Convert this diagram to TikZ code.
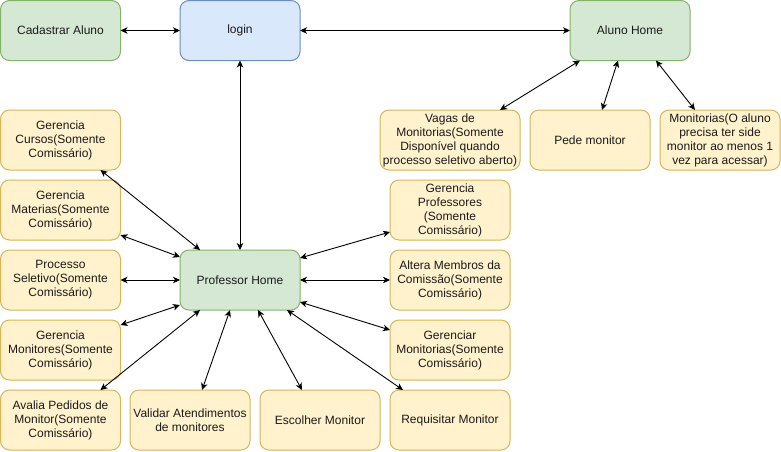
\documentclass[tikz,border=0pt]{standalone}
\usepackage{fontspec}
\setmainfont{Liberation Sans}
\usetikzlibrary{arrows.meta}
\definecolor{yfill}{HTML}{FFF2CC}
\definecolor{ydraw}{HTML}{D6B656}
\definecolor{gfill}{HTML}{D5E8D4}
\definecolor{gdraw}{HTML}{82B366}
\definecolor{bfill}{HTML}{DAE8FC}
\definecolor{bdraw}{HTML}{6C8EBF}
\definecolor{txt}{HTML}{1A1A1A}
\tikzset{
  box/.style={rectangle, rounded corners=9pt, minimum width=120pt, minimum height=60pt,
    inner sep=0pt, outer sep=0pt, line width=1pt, align=center, text=txt,
    font=\fontsize{12}{14}\selectfont},
  ybox/.style={box, fill=yfill, draw=ydraw},
  gbox/.style={box, fill=gfill, draw=gdraw},
  bbox/.style={box, fill=bfill, draw=bdraw},
  link/.style={line width=0.9pt, {Stealth[length=7pt,width=6.5pt,inset=2pt]}-{Stealth[length=7pt,width=6.5pt,inset=2pt]}},
}
\begin{document}
\begin{tikzpicture}[x=1pt,y=-1pt]
\useasboundingbox (0,0) rectangle (781,451);
% top row
\node[gbox] (cad) at (60.5,30.5) {Cadastrar Aluno};
\node[bbox] (login) at (240,30.5) {login};
\node[gbox] (aluno) at (630,30.5) {Aluno Home};
% aluno children
\node[ybox, minimum width=140pt] (vagas) at (450,140) {Vagas de\\Monitorias(Somente\\Disponível quando\\processo seletivo aberto)};
\node[ybox] (pede) at (590,140) {Pede monitor};
\node[ybox] (monit) at (720,140) {Monitorias(O aluno\\precisa ter side\\monitor ao menos 1\\vez para acessar)};
% left column
\node[ybox] (cursos) at (60.5,140) {Gerencia\\Cursos(Somente\\Comissário)};
\node[ybox] (materias) at (60.5,210) {Gerencia\\Materias(Somente\\Comissário)};
\node[ybox] (processo) at (60.5,280) {Processo\\Seletivo(Somente\\Comissário)};
\node[ybox] (monitores) at (60.5,350) {Gerencia\\Monitores(Somente\\Comissário)};
\node[ybox] (avalia) at (60.5,420) {Avalia Pedidos de\\Monitor(Somente\\Comissário)};
% bottom row
\node[ybox] (validar) at (190,420) {Validar Atendimentos\\de monitores};
\node[ybox] (escolher) at (320,420) {Escolher Monitor};
\node[ybox] (requisitar) at (450,420) {Requisitar Monitor};
% center
\node[gbox] (prof) at (240,280) {Professor Home};
% right column
\node[ybox] (gprof) at (450,210) {Gerencia\\Professores\\(Somente\\Comissário)};
\node[ybox] (altera) at (450,280) {Altera Membros da\\Comissão(Somente\\Comissário)};
\node[ybox] (gmon) at (450,350) {Gerenciar\\Monitorias(Somente\\Comissário)};
% connectors
\draw[link] (cad) -- (login);
\draw[link] (login) -- (aluno);
\draw[link] (login) -- (prof);
\draw[link] ([xshift=-50pt]aluno.south) -- ([xshift=50pt]vagas.north);
\draw[link] ([xshift=-12pt]aluno.south) -- ([xshift=12pt]pede.north);
\draw[link] ([xshift=26pt]aluno.south) -- ([xshift=-25pt]monit.north);
\draw[link] ([xshift=40pt]cursos.south) -- ([xshift=-40pt]prof.north);
\draw[link] ([yshift=-25pt]materias.east) -- ([yshift=23pt]prof.west);
\draw[link] (processo) -- (prof);
\draw[link] ([yshift=25pt]monitores.east) -- ([yshift=-25pt]prof.west);
\draw[link] ([xshift=40pt]avalia.north) -- ([xshift=-40pt]prof.south);
\draw[link] ([xshift=12pt]validar.north) -- ([xshift=-10pt]prof.south);
\draw[link] ([xshift=-18pt]escolher.north) -- ([xshift=18pt]prof.south);
\draw[link] ([xshift=-47pt]requisitar.north) -- ([xshift=47pt]prof.south);
\draw[link] ([yshift=-22pt]gprof.west) -- ([yshift=22pt]prof.east);
\draw[link] (altera) -- (prof);
\draw[link] ([yshift=20pt]gmon.west) -- ([yshift=-22pt]prof.east);
\end{tikzpicture}
\end{document}
